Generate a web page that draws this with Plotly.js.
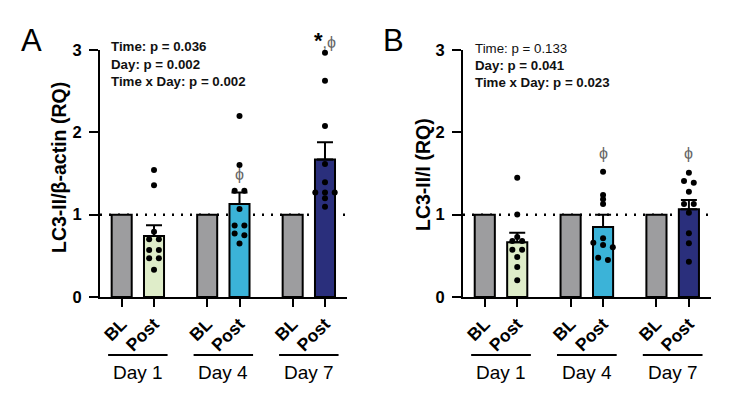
<!DOCTYPE html>
<html>
<head>
<meta charset="utf-8">
<script src="https://cdn.plot.ly/plotly-3.0.1.min.js"></script>
<style>html,body{margin:0;padding:0;background:#fff}#chart{width:747px;height:397px}</style>
</head>
<body>
<div id="chart"></div>
<script>
// ---- data ----
const days = ['Day 1', 'Day 4', 'Day 7'];
const tickNames = ['BL', 'Post'];
const blMean = [1, 1, 1];
const postMeanA = [0.74, 1.13, 1.67];
const postSemA = [0.13, 0.14, 0.21];
const postMeanB = [0.665, 0.85, 1.065];
const postSemB = [0.115, 0.15, 0.113];
const ptsA1 = [1.543, 1.357, 0.793, 0.70, 0.70, 0.571, 0.571, 0.47, 0.47, 0.33];
const ptsA4 = [2.198, 1.603, 1.29, 1.29, 1.069, 0.868, 0.868, 0.77, 0.75, 0.65];
const ptsA7 = [2.967, 2.627, 2.077, 1.615, 1.393, 1.27, 1.27, 1.27, 1.199, 1.097];
const ptsB1 = [1.447, 1.001, 0.73, 0.68, 0.68, 0.575, 0.575, 0.486, 0.365, 0.203];
const ptsB4 = [1.522, 1.239, 1.187, 1.13, 0.713, 0.66, 0.632, 0.604, 0.477, 0.449];
const ptsB7 = [1.51, 1.409, 1.388, 1.279, 1.13, 1.13, 1.024, 0.774, 0.652, 0.429];
const statsA = ['<b>Time: p = 0.036</b>', '<b>Day: p = 0.002</b>', '<b>Time x Day: p = 0.002</b>'];
const statsB = ['Time: p = 0.133', '<b>Day: p = 0.041</b>', '<b>Time x Day: p = 0.023</b>'];
const yTitleA = '<b>LC3-II/β-actin (RQ)</b>';
const yTitleB = '<b>LC3-II/I (RQ)</b>';

// ---- styling / layout helpers ----
const FONT = 'Arial, "Liberation Sans", sans-serif';
const blColor = '#9d9d9f';
const postColors = ['#dfedc9', '#3bb3d8', '#2a2f7c'];
const G = 2.645;            // group spacing (units)
const BW = 0.62;            // bar width
const S = 0.3;              // dot spread
const pos = (g, w) => g * G + w;
const blX = days.map((d, i) => pos(i, 0));
const postX = days.map((d, i) => pos(i, 1));
const tickVals = [], tickText = [];
days.forEach((d, i) => { tickVals.push(pos(i, 0), pos(i, 1)); tickText.push('<b>' + tickNames[0] + '</b>', '<b>' + tickNames[1] + '</b>'); });

function spread(vals, cx) {
  const sorted = vals.slice().sort((a, b) => b - a);
  const xs = [], ys = [];
  let i = 0;
  while (i < sorted.length) {
    let j = i + 1;
    while (j < sorted.length && sorted[j - 1] - sorted[j] < 0.045) j++;
    const n = j - i;
    for (let k = 0; k < n; k++) { xs.push(cx + (k - (n - 1) / 2) * S); ys.push(sorted[i + k]); }
    i = j;
  }
  return { xs, ys };
}

function panelTraces(xa, ya, postMean, postSem, ptsList) {
  const tr = [];
  tr.push({ type: 'bar', x: blX, y: blMean, width: BW, xaxis: xa, yaxis: ya,
    marker: { color: blColor, line: { color: '#000', width: 2 } }, hoverinfo: 'skip' });
  tr.push({ type: 'bar', x: postX, y: postMean, width: BW, xaxis: xa, yaxis: ya,
    marker: { color: postColors, line: { color: '#000', width: 2 } },
    error_y: { type: 'data', symmetric: false, array: postSem, arrayminus: postSem.map(() => 0),
      color: '#000', thickness: 2, width: 8 }, hoverinfo: 'skip' });
  const px = [], py = [];
  ptsList.forEach((p, i) => { const s = spread(p, postX[i]); px.push(...s.xs); py.push(...s.ys); });
  tr.push({ type: 'scatter', mode: 'markers', x: px, y: py, xaxis: xa, yaxis: ya, cliponaxis: false,
    marker: { color: '#000', size: 6 }, hoverinfo: 'skip' });
  return tr;
}

const data = [
  ...panelTraces('x', 'y', postMeanA, postSemA, [ptsA1, ptsA4, ptsA7]),
  ...panelTraces('x2', 'y2', postMeanB, postSemB, [ptsB1, ptsB4, ptsB7])
];

const W = 747, H = 397;
const px2x = p => p / W, py2y = p => (H - p) / H;
const xRange = [-0.671, 6.971];

function xAxis(domain, anchor) {
  return { domain, anchor, range: xRange, showline: true, linewidth: 2, linecolor: '#000',
    ticks: 'outside', ticklen: 8, tickwidth: 2, tickcolor: '#000', tickvals: tickVals, ticktext: tickText,
    tickangle: -45, tickfont: { family: FONT, size: 17.5, color: '#000' }, showgrid: false, zeroline: false, fixedrange: true };
}
function yAxis(anchor) {
  return { domain: [py2y(297), py2y(50)], anchor, range: [0, 3], showline: true, linewidth: 2, linecolor: '#000',
    ticks: 'outside', ticklen: 9, tickwidth: 2, tickcolor: '#000', tickvals: [0, 1, 2, 3],
    ticktext: ['<b>0</b>', '<b>1</b>', '<b>2</b>', '<b>3</b>'], ticklabelstandoff: 4,
    tickfont: { family: FONT, size: 16.5, color: '#000' }, showgrid: false, zeroline: false, fixedrange: true };
}

const shapes = [];
const annotations = [];
[['x', 'y'], ['x2', 'y2']].forEach(([xa, ya]) => {
  shapes.push({ type: 'line', xref: xa, yref: ya, x0: xRange[0], x1: xRange[1], y0: 1, y1: 1,
    line: { color: '#000', width: 2.5, dash: '2px,7px' }, layer: 'below' });
  days.forEach((d, i) => {
    const c = (blX[i] + postX[i]) / 2;
    shapes.push({ type: 'line', xref: xa, yref: 'paper', x0: c - 0.92, x1: c + 0.92, y0: py2y(355), y1: py2y(355),
      line: { color: '#000', width: 2 } });
    annotations.push({ xref: xa, yref: 'paper', x: c, y: py2y(372), text: d, showarrow: false,
      xanchor: 'center', yanchor: 'middle', font: { family: FONT, size: 19, color: '#000' } });
  });
});

const statY = [[46.7, 64.3, 81.7], [49, 65.7, 82.7]];
statsA.forEach((t, i) => annotations.push({ xref: 'paper', yref: 'paper', x: px2x(109), y: py2y(statY[0][i]), text: t,
  showarrow: false, xanchor: 'left', yanchor: 'middle', font: { family: FONT, size: 13.3, color: '#111' } }));
statsB.forEach((t, i) => annotations.push({ xref: 'paper', yref: 'paper', x: px2x(473), y: py2y(statY[1][i]), text: t,
  showarrow: false, xanchor: 'left', yanchor: 'middle', font: { family: FONT, size: 13.3, color: '#111' } }));

// panel letters
annotations.push({ xref: 'paper', yref: 'paper', x: px2x(31), y: py2y(40), text: 'A', showarrow: false,
  xanchor: 'center', yanchor: 'middle', font: { family: FONT, size: 31, color: '#000' } });
annotations.push({ xref: 'paper', yref: 'paper', x: px2x(393), y: py2y(40), text: 'B', showarrow: false,
  xanchor: 'center', yanchor: 'middle', font: { family: FONT, size: 31, color: '#000' } });

// y titles
annotations.push({ xref: 'paper', yref: 'paper', x: px2x(59), y: py2y(168), text: yTitleA, textangle: -90, showarrow: false,
  xanchor: 'center', yanchor: 'middle', font: { family: FONT, size: 19.5, color: '#000' } });
annotations.push({ xref: 'paper', yref: 'paper', x: px2x(423), y: py2y(175), text: yTitleB, textangle: -90, showarrow: false,
  xanchor: 'center', yanchor: 'middle', font: { family: FONT, size: 19.5, color: '#000' } });

// significance symbols
const phiFont = { family: FONT, size: 16, color: '#666' };
annotations.push({ xref: 'x', yref: 'y', x: postX[1], y: 1.49, text: 'ϕ', showarrow: false, font: phiFont });
annotations.push({ xref: 'x', yref: 'paper', x: postX[2], y: py2y(40), text: '<b><span style="color:#000;font-size:22px">*</span></b>,ϕ',
  showarrow: false, xanchor: 'center', yanchor: 'middle', font: phiFont });
annotations.push({ xref: 'x2', yref: 'y2', x: postX[1], y: 1.74, text: 'ϕ', showarrow: false, font: phiFont });
annotations.push({ xref: 'x2', yref: 'y2', x: postX[2], y: 1.74, text: 'ϕ', showarrow: false, font: phiFont });

const layout = {
  width: W, height: H, margin: { l: 0, r: 0, t: 0, b: 0 }, showlegend: false,
  paper_bgcolor: '#fff', plot_bgcolor: 'rgba(0,0,0,0)', barmode: 'overlay',
  xaxis: xAxis([px2x(100), px2x(347)], 'y'),
  yaxis: yAxis('x'),
  xaxis2: xAxis([px2x(463), px2x(711)], 'y2'),
  yaxis2: yAxis('x2'),
  shapes, annotations,
  font: { family: FONT }
};

Plotly.newPlot('chart', data, layout, { displayModeBar: false, staticPlot: true });
</script>
</body>
</html>
